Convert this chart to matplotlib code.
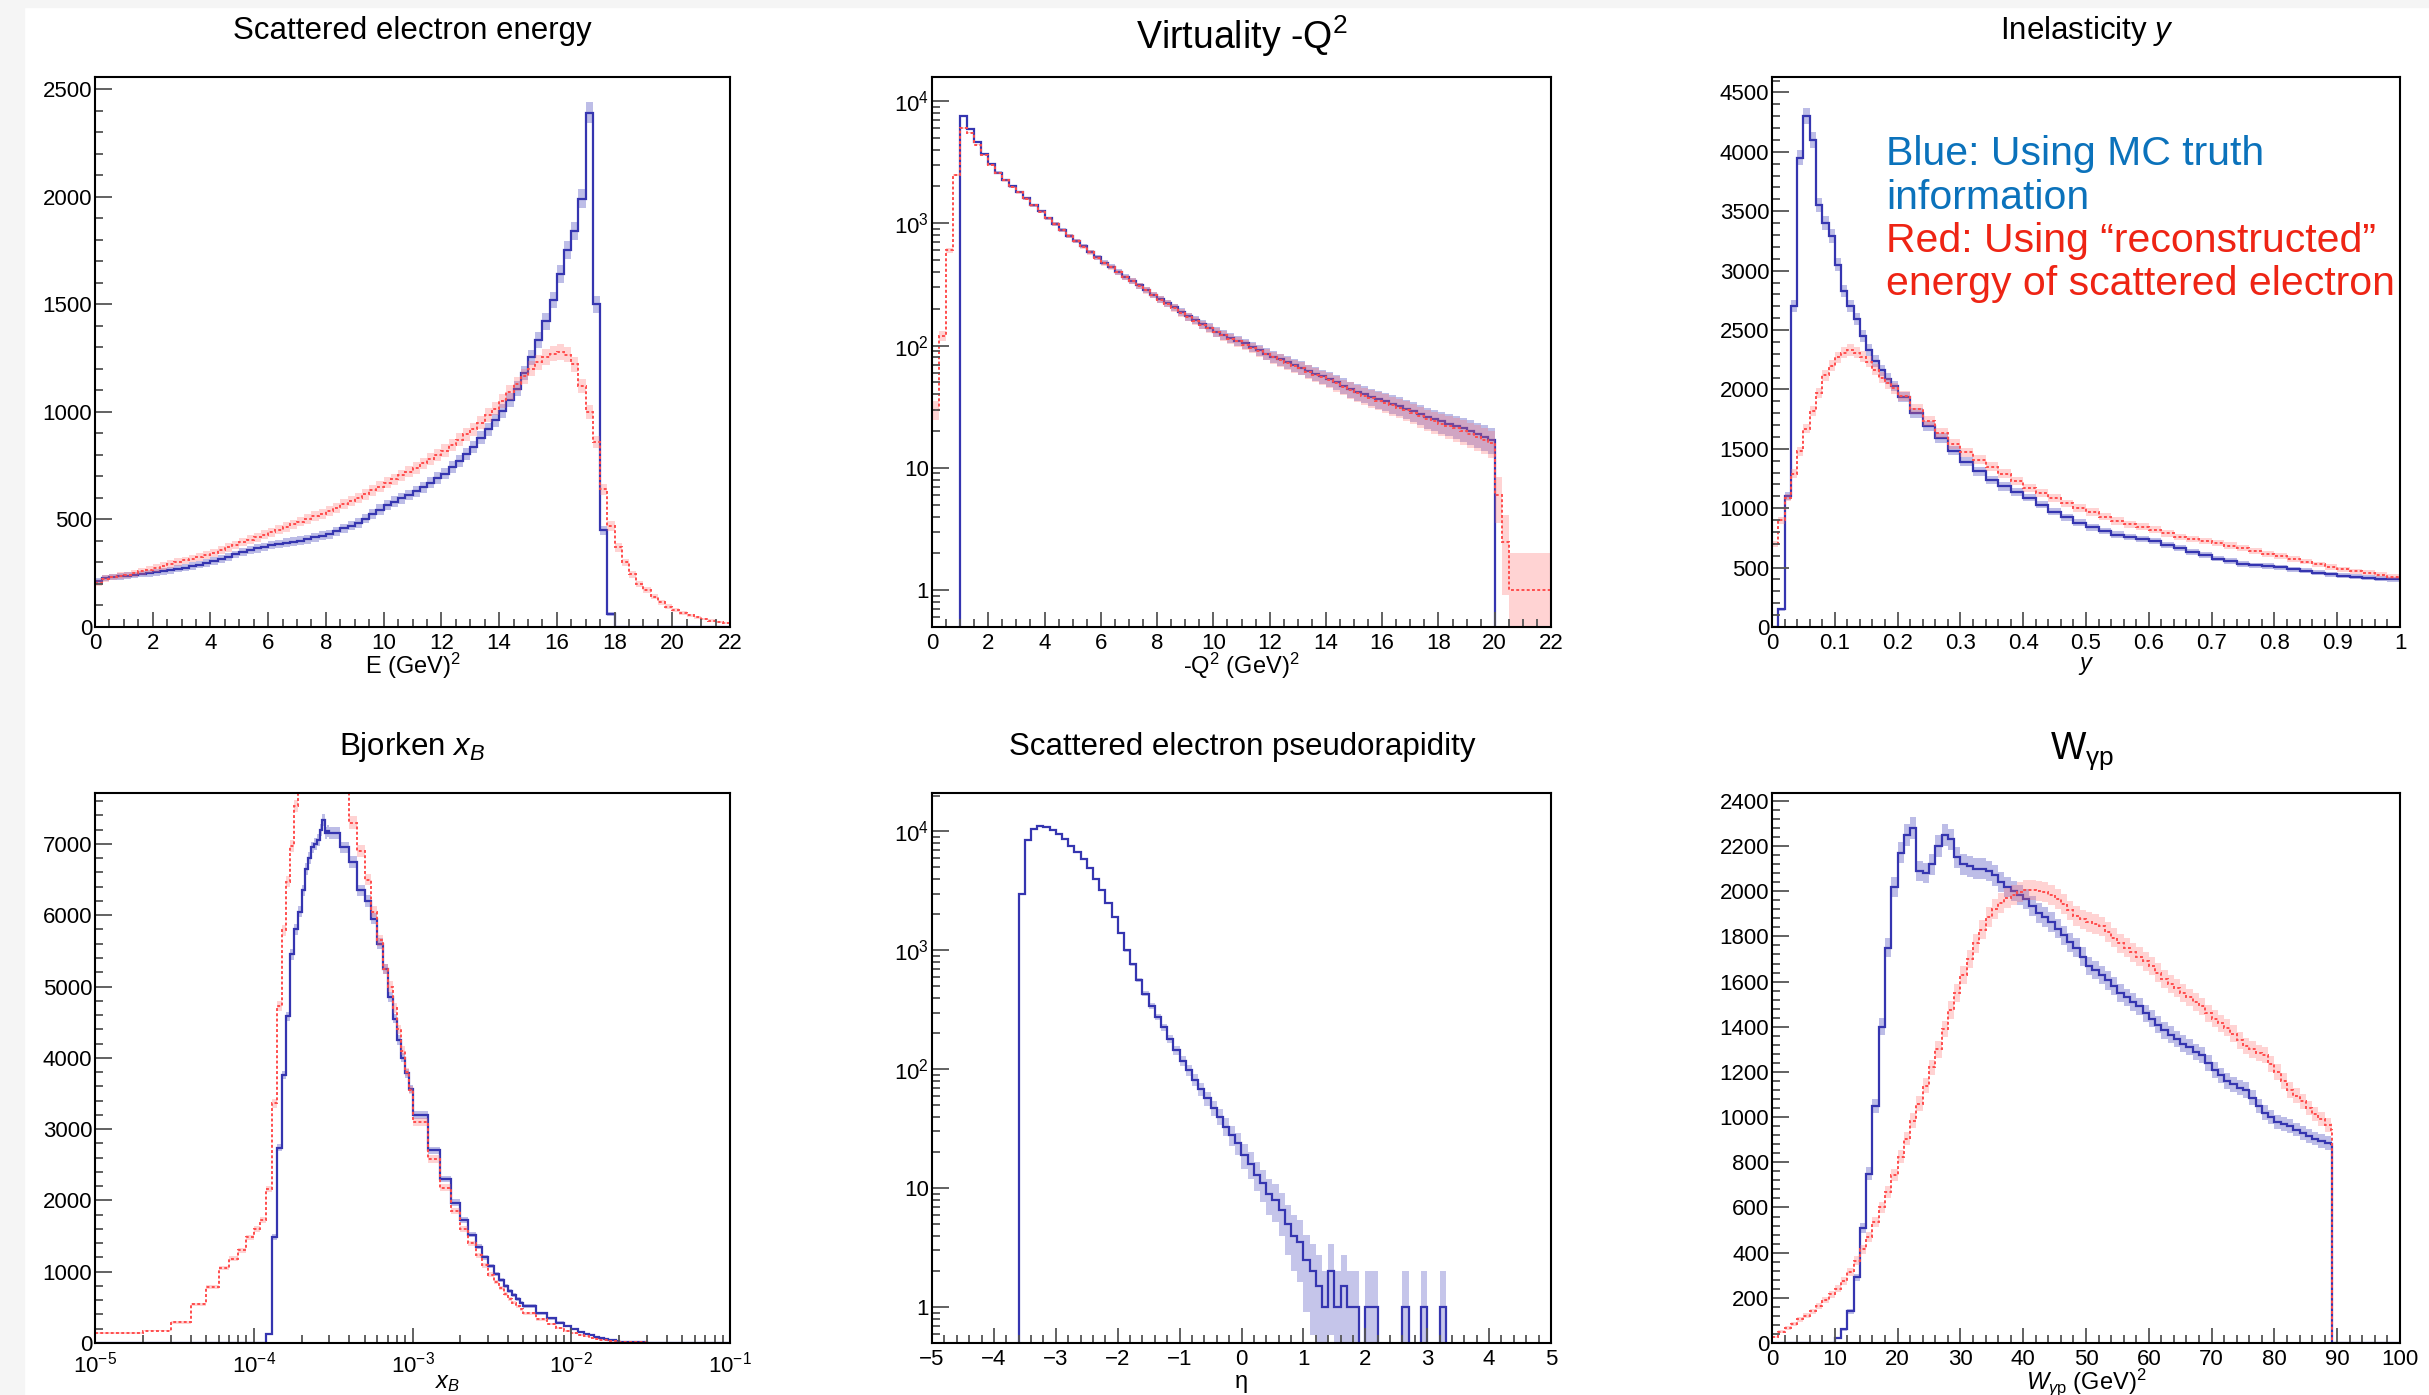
import numpy as np
import matplotlib.pyplot as plt
from matplotlib.patches import Rectangle
from matplotlib.ticker import (MultipleLocator, LogLocator, NullFormatter,
                               FuncFormatter, FormatStrFormatter)

W_PX, H_PX = 2429, 1395

plt.rcParams.update({
    "font.family": ["Liberation Sans", "DejaVu Sans"],
    "mathtext.fontset": "custom",
    "mathtext.rm": "Liberation Sans",
    "mathtext.it": "Liberation Sans:italic",
    "mathtext.bf": "Liberation Sans:bold",
    "axes.linewidth": 1.5,
    "axes.unicode_minus": True,
})

BLUE = "#3535b0"
BLUE_BAND = "#5a5ac4"
RED = "#ff4d4d"
RED_BAND = "#ff7070"

# ── data: bin edges and bin contents ────────────────────────────────────────
# scattered electron energy, 0.25 GeV bins
E_edges = np.arange(0, 22.001, 0.25)
E_blue = [215, 228, 232, 235, 238, 242, 246, 250, 255, 259, 264, 270,
          276, 283, 290, 298, 307, 316, 326, 337, 349, 357, 365, 372,
          380, 385, 392, 397, 401, 408, 416, 424, 432, 445, 458, 471,
          484, 504, 525, 546, 567, 583, 598, 614, 630, 650, 671, 692,
          713, 742, 773, 805, 837, 880, 920, 960, 1004, 1055, 1108, 1180,
          1253, 1335, 1420, 1520, 1640, 1750, 1840, 1990, 2390, 1500, 450, 60,
          0, 0, 0, 0, 0, 0, 0, 0, 0, 0, 0, 0, 0, 0, 0, 0]
E_red = [205, 225, 232, 238, 242, 250, 258, 266, 274, 283, 292, 301,
         310, 318, 327, 336, 345, 357, 370, 382, 395, 406, 417, 428,
         440, 452, 465, 477, 490, 502, 515, 527, 540, 555, 570, 585,
         600, 617, 635, 652, 670, 687, 705, 722, 740, 760, 780, 800,
         820, 845, 870, 895, 920, 950, 985, 1015, 1050, 1090, 1130, 1165,
         1200, 1230, 1255, 1270, 1278, 1265, 1220, 1120, 1000, 860, 640, 470,
         370, 300, 245, 200, 172, 140, 115, 95, 79, 65, 55, 45,
         37, 30, 23, 17]

# virtuality, 0.25 GeV^2 bins
Q_edges = np.arange(0, 22.001, 0.25)
Q_blue = [0, 0, 0, 0, 7600, 5900, 4600, 3700, 3050, 2600, 2250, 2000,
          1800, 1600, 1400, 1250, 1100, 990, 880, 790, 720, 650, 580, 525,
          475, 440, 400, 365, 340, 310, 285, 260, 240, 222, 205, 188,
          173, 162, 150, 140, 130, 123, 116, 110, 104, 98, 92, 86,
          81, 77, 73, 69, 66, 62, 59, 56, 53, 50, 47, 44,
          42, 40, 38, 36.5, 35, 33.5, 32, 30.5, 29, 27.5, 26, 25,
          24, 23, 22, 21, 20, 19, 18, 17, 0, 0, 0, 0, 0, 0, 0, 0]
Q_red = [30, 120, 600, 2500, 6000, 5500, 4400, 3600, 3000, 2580, 2240, 1990,
         1790, 1590, 1400, 1240, 1100, 985, 875, 785, 715, 645, 578, 522,
         472, 436, 398, 362, 336, 308, 283, 259, 238, 220, 203, 186,
         171, 160, 148, 138, 128, 121, 114, 108, 102, 96, 90, 85,
         80, 76, 72, 68, 65, 61, 58, 55, 52, 49, 46, 43.5,
         41, 39, 37, 35.5, 34, 32.5, 31, 29.5, 28, 26.5, 25, 24,
         23, 22, 21, 20, 19, 18, 17, 16, 6, 2.5, 1, 1, 1, 1, 1, 1]

# inelasticity: 0.01 bins up to 0.2, then 0.02 bins
y_edges = np.r_[np.arange(0, 0.2, 0.01), np.arange(0.2, 1.0001, 0.02)]
y_blue = [0, 150, 1100, 2700, 3950, 4300, 4100, 3550, 3400, 3290,
          3050, 2830, 2700, 2590, 2450, 2330, 2240, 2160, 2090, 2030,
          1935, 1800, 1695, 1590, 1485, 1390, 1310, 1238, 1183, 1135,
          1090, 1030, 972, 922, 877, 838, 808, 778, 758, 742,
          722, 692, 663, 635, 605, 576, 554, 532, 520, 512,
          502, 486, 473, 458, 444, 430, 422, 414, 408, 400]
y_red = [700, 900, 1090, 1290, 1480, 1670, 1820, 1970, 2120, 2200,
         2270, 2310, 2330, 2310, 2275, 2235, 2165, 2100, 2050, 2010,
         1945, 1835, 1735, 1635, 1540, 1470, 1410, 1350, 1290, 1230,
         1172, 1128, 1083, 1040, 1003, 968, 930, 892, 866, 843,
         819, 789, 758, 740, 726, 709, 686, 663, 641, 618,
         596, 573, 551, 528, 506, 485, 470, 455, 440, 424]

# Bjorken x: variable bins (fine at low x, coarse in the tail)
x_edges = np.r_[np.arange(1, 30.5) * 1e-5,
                np.arange(3.5, 10.01, 0.5) * 1e-4,
                np.arange(1.25, 5.001, 0.25) * 1e-3,
                np.arange(6, 20.01, 1) * 1e-3,
                np.arange(3, 10.01, 1) * 1e-2]
x_blue = [0, 0, 0, 0, 0, 0, 0, 0, 0, 0, 0,
          120, 1490, 2740, 3760, 4580, 5450, 5800, 6050, 6350, 6650,
          6800, 6950, 7000, 7050, 7200, 7340, 7150, 7180,
          7150, 6950, 6750, 6350, 6200, 5950, 5600, 5250, 4850, 4550,
          4250, 4000, 3780, 3560,
          3200, 2700, 2300, 1970, 1720, 1520, 1350, 1200,
          1080, 970, 880, 800, 730, 670, 615, 565,
          520, 420, 345, 285, 235, 195, 160, 132, 110, 90, 74, 60, 49, 40, 32,
          18, 6, 2, 1, 0, 0, 0, 0]
x_red = [140, 175, 290, 540, 790, 1050, 1180, 1300, 1480, 1600, 1720,
         2160, 3360, 4730, 5790, 6470, 6970, 7530, 8100, 8500, 8800,
         9000, 9100, 9150, 9150, 9100, 9000, 8900, 8750,
         8500, 7900, 7300, 6900, 6500, 6050, 5650, 5250, 5000, 4700,
         4400, 4100, 3800, 3550,
         3100, 2580, 2180, 1850, 1600, 1400, 1230, 1090,
         960, 860, 770, 690, 620, 565, 515, 470,
         415, 330, 265, 215, 172, 140, 113, 92, 74, 60, 48, 38, 30, 24, 19,
         9, 3, 1, 0, 0, 0, 0, 0]

# pseudorapidity, 0.1 bins (MC truth only)
eta_edges = np.arange(-5, 5.001, 0.1)
eta_blue = [0] * 14 + [
    3000, 8500, 10500, 11000, 10900, 10300, 9500, 8600, 7600, 6700,
    5800, 4900, 4000, 3200, 2500, 1900, 1400, 1000, 760, 560,
    430, 340, 275, 225, 180, 145, 118, 98, 82, 68,
    57, 47, 40, 33, 28, 24,
    19, 16, 13, 11, 9, 8, 6.5, 5, 4, 3.5,
    2.5, 2, 1.5, 1, 2, 1, 1.5, 1, 1, 0,
    1, 1, 0, 0, 0, 0, 1, 0, 0, 1,
    0, 0, 1, 0, 0, 0, 0, 0, 0, 0,
    0, 0, 0, 0, 0, 0, 0, 0, 0, 0]

# W_gamma-p, 1 GeV bins, cut at 89.2
W_edges = np.r_[np.arange(0, 90), 89.2, 100]
W_blue = [0, 0, 0, 0, 0, 0, 0, 0, 0, 0,
          20, 60, 140, 290, 510, 750, 1050, 1400, 1750, 2020,
          2170, 2250, 2280, 2090, 2080, 2120, 2200, 2250, 2230, 2150,
          2120, 2110, 2100, 2100, 2090, 2070, 2040, 2020, 2000, 1985,
          1965, 1935, 1905, 1885, 1865, 1835, 1805, 1775, 1750, 1710,
          1670, 1650, 1630, 1605, 1580, 1550, 1530, 1510, 1490, 1460,
          1435, 1410, 1385, 1365, 1345, 1325, 1310, 1290, 1275, 1240,
          1210, 1185, 1160, 1145, 1130, 1120, 1085, 1050, 1020, 1000,
          980, 970, 960, 945, 930, 915, 905, 895, 885, 880, 0]
W_red = [25, 50, 65, 85, 105, 120, 140, 165, 190, 215,
         240, 275, 315, 365, 415, 470, 535, 600, 670, 745,
         825, 905, 985, 1060, 1140, 1220, 1300, 1390, 1475, 1550,
         1630, 1700, 1770, 1830, 1885, 1920, 1950, 1970, 1985, 1995,
         2005, 2005, 2000, 1995, 1985, 1965, 1945, 1915, 1890, 1875,
         1865, 1855, 1845, 1820, 1795, 1770, 1750, 1730, 1710, 1690,
         1670, 1640, 1610, 1590, 1570, 1550, 1530, 1510, 1490, 1460,
         1435, 1415, 1395, 1370, 1340, 1315, 1300, 1285, 1275, 1235,
         1200, 1160, 1120, 1095, 1070, 1040, 1015, 990, 965, 945, 0]


# ── helpers ─────────────────────────────────────────────────────────────────
def add_axes_px(fig, left, top, right, bottom):
    return fig.add_axes([left / W_PX, 1 - bottom / H_PX,
                         (right - left) / W_PX, (bottom - top) / H_PX])


def fig_text(fig, x, y, s, **kw):
    fig.text(x / W_PX, 1 - y / H_PX, s, **kw)


def root_style(ax, xpad=4):
    ax.tick_params(which="both", direction="in", top=False, right=False,
                   color="#555555", width=1.3, labelsize=16)
    ax.tick_params(axis="y", which="major", length=12, pad=2)
    ax.tick_params(axis="y", which="minor", length=6)
    ax.tick_params(axis="x", which="major", length=11, pad=xpad)
    ax.tick_params(axis="x", which="minor", length=5.5)
    for sp in ax.spines.values():
        sp.set_linewidth(1.5)


def draw_hist(ax, edges, vals, color, band, ls="-", lw=1.6, log=False, alpha=0.4):
    v = np.asarray(vals, float)
    err = np.sqrt(v)
    lo, hi = v - err, v + err
    if log:
        floor = 1e-2
        v = np.where(v > 0, v, floor)
        lo = np.maximum(lo, floor)
        hi = np.maximum(hi, floor)
    ax.stairs(hi, edges, baseline=lo, fill=True, color=band, alpha=alpha, lw=0)
    ax.stairs(v, edges, baseline=None, color=color, lw=lw, ls=ls)


def log_label(v, _):
    if v <= 0:
        return ""
    n = int(round(np.log10(v)))
    if n == 0:
        return "1"
    if n == 1:
        return "10"
    return f"$10^{{{n}}}$"


def xlabel(ax, s, size=17, x=0.5, y=-0.071):
    ax.set_xlabel(s, fontsize=size, va="center")
    ax.xaxis.set_label_coords(x, y)


RED_LS = (0, (1.5, 1.2))

fig = plt.figure(figsize=(W_PX / 100, H_PX / 100), dpi=100)
fig.patches.append(Rectangle((0, 0), 24 / W_PX, 1, transform=fig.transFigure,
                             color="#f5f5f5", zorder=-5))
fig.patches.append(Rectangle((0, 1 - 7 / H_PX), 1, 7 / H_PX,
                             transform=fig.transFigure, color="#f5f5f5", zorder=-5))

# ── 1. scattered electron energy ────────────────────────────────────────────
ax1 = add_axes_px(fig, 95, 77, 730, 627)
draw_hist(ax1, E_edges, E_blue, BLUE, BLUE_BAND)
draw_hist(ax1, E_edges, E_red, RED, RED_BAND, ls=RED_LS, lw=1.4, alpha=0.3)
ax1.set_xlim(0, 22)
ax1.set_ylim(0, 2556)
ax1.xaxis.set_major_locator(MultipleLocator(2))
ax1.xaxis.set_minor_locator(MultipleLocator(0.5))
ax1.yaxis.set_major_locator(MultipleLocator(500))
ax1.yaxis.set_minor_locator(MultipleLocator(100))
root_style(ax1)
xlabel(ax1, "E (GeV)$^{2}$")
fig_text(fig, 412, 31, "Scattered electron energy", fontsize=22.5,
         ha="center", va="center")

# ── 2. virtuality ───────────────────────────────────────────────────────────
ax2 = add_axes_px(fig, 932, 77, 1551, 627)
ax2.set_yscale("log")
draw_hist(ax2, Q_edges, Q_blue, BLUE, BLUE_BAND, log=True)
draw_hist(ax2, Q_edges, Q_red, RED, RED_BAND, ls=RED_LS, lw=1.4, log=True, alpha=0.3)
ax2.set_xlim(0, 22)
ax2.set_ylim(0.5, 1.57e4)
ax2.xaxis.set_major_locator(MultipleLocator(2))
ax2.xaxis.set_minor_locator(MultipleLocator(0.5))
ax2.yaxis.set_major_locator(LogLocator(base=10))
ax2.yaxis.set_minor_locator(LogLocator(base=10, subs=range(2, 10)))
ax2.yaxis.set_major_formatter(FuncFormatter(log_label))
ax2.yaxis.set_minor_formatter(NullFormatter())
root_style(ax2)
xlabel(ax2, "-Q$^{2}$ (GeV)$^{2}$")
fig_text(fig, 1242, 36, "Virtuality -Q$^{2}$", fontsize=27,
         ha="center", va="center")

# ── 3. inelasticity ─────────────────────────────────────────────────────────
ax3 = add_axes_px(fig, 1772, 77, 2400, 627)
draw_hist(ax3, y_edges, y_blue, BLUE, BLUE_BAND)
draw_hist(ax3, y_edges, y_red, RED, RED_BAND, ls=RED_LS, lw=1.4, alpha=0.3)
ax3.set_xlim(0, 1)
ax3.set_ylim(0, 4630)
ax3.xaxis.set_major_locator(MultipleLocator(0.1))
ax3.xaxis.set_minor_locator(MultipleLocator(0.02))
ax3.xaxis.set_major_formatter(FormatStrFormatter("%g"))
ax3.yaxis.set_major_locator(MultipleLocator(500))
ax3.yaxis.set_minor_locator(MultipleLocator(100))
root_style(ax3)
xlabel(ax3, "$y$")
fig_text(fig, 2087, 31, "Inelasticity $y$", fontsize=22.5,
         ha="center", va="center")

legend_lines = [("Blue: Using MC truth", "#0b72bb", 165),
                ("information", "#0b72bb", 209),
                ("Red: Using \u201creconstructed\u201d", "#ee2414", 252),
                ("energy of scattered electron", "#ee2414", 295)]
for txt, col, base in legend_lines:
    fig_text(fig, 1886, base, txt, fontsize=29.5, color=col,
             ha="left", va="baseline")

# ── 4. Bjorken x ────────────────────────────────────────────────────────────
ax4 = add_axes_px(fig, 95, 793, 730, 1343)
ax4.set_xscale("log")
draw_hist(ax4, x_edges, x_blue, BLUE, BLUE_BAND)
draw_hist(ax4, x_edges, x_red, RED, RED_BAND, ls=RED_LS, lw=1.4, alpha=0.3)
ax4.set_xlim(1e-5, 1e-1)
ax4.set_ylim(0, 7714)
ax4.xaxis.set_major_locator(LogLocator(base=10))
ax4.xaxis.set_minor_locator(LogLocator(base=10, subs=range(2, 10)))
ax4.xaxis.set_major_formatter(FuncFormatter(
    lambda v, _: f"$10^{{{int(round(np.log10(v)))}}}$"))
ax4.xaxis.set_minor_formatter(NullFormatter())
ax4.yaxis.set_major_locator(MultipleLocator(1000))
ax4.yaxis.set_minor_locator(MultipleLocator(200))
root_style(ax4, xpad=6.5)
xlabel(ax4, "$x_{B}$", x=0.555, y=-0.072)
fig_text(fig, 412, 747, "Bjorken $x_{B}$", fontsize=22.5,
         ha="center", va="center")

# ── 5. pseudorapidity ───────────────────────────────────────────────────────
ax5 = add_axes_px(fig, 932, 793, 1551, 1343)
ax5.set_yscale("log")
draw_hist(ax5, eta_edges, eta_blue, BLUE, BLUE_BAND, log=True, alpha=0.35)
ax5.set_xlim(-5, 5)
ax5.set_ylim(0.5, 2.1e4)
ax5.xaxis.set_major_locator(MultipleLocator(1))
ax5.xaxis.set_minor_locator(MultipleLocator(0.2))
ax5.yaxis.set_major_locator(LogLocator(base=10))
ax5.yaxis.set_minor_locator(LogLocator(base=10, subs=range(2, 10)))
ax5.yaxis.set_major_formatter(FuncFormatter(log_label))
ax5.yaxis.set_minor_formatter(NullFormatter())
root_style(ax5)
xlabel(ax5, "\u03b7")
fig_text(fig, 1242, 747, "Scattered electron pseudorapidity", fontsize=22.5,
         ha="center", va="center")

# ── 6. W gamma-p ────────────────────────────────────────────────────────────
ax6 = add_axes_px(fig, 1772, 793, 2400, 1343)
draw_hist(ax6, W_edges, W_blue, BLUE, BLUE_BAND)
draw_hist(ax6, W_edges, W_red, RED, RED_BAND, ls=RED_LS, lw=1.4, alpha=0.3)
ax6.set_xlim(0, 100)
ax6.set_ylim(0, 2435)
ax6.xaxis.set_major_locator(MultipleLocator(10))
ax6.xaxis.set_minor_locator(MultipleLocator(2))
ax6.yaxis.set_major_locator(MultipleLocator(200))
ax6.yaxis.set_minor_locator(MultipleLocator(40))
root_style(ax6)
xlabel(ax6, "$W_{\\gamma\\mathrm{p}}$ (GeV)$^{2}$")
fig_text(fig, 2082, 751, "$\\mathrm{W_{\\gamma p}}$", fontsize=27,
         ha="center", va="center")

fig.savefig("out.png", dpi=100)
